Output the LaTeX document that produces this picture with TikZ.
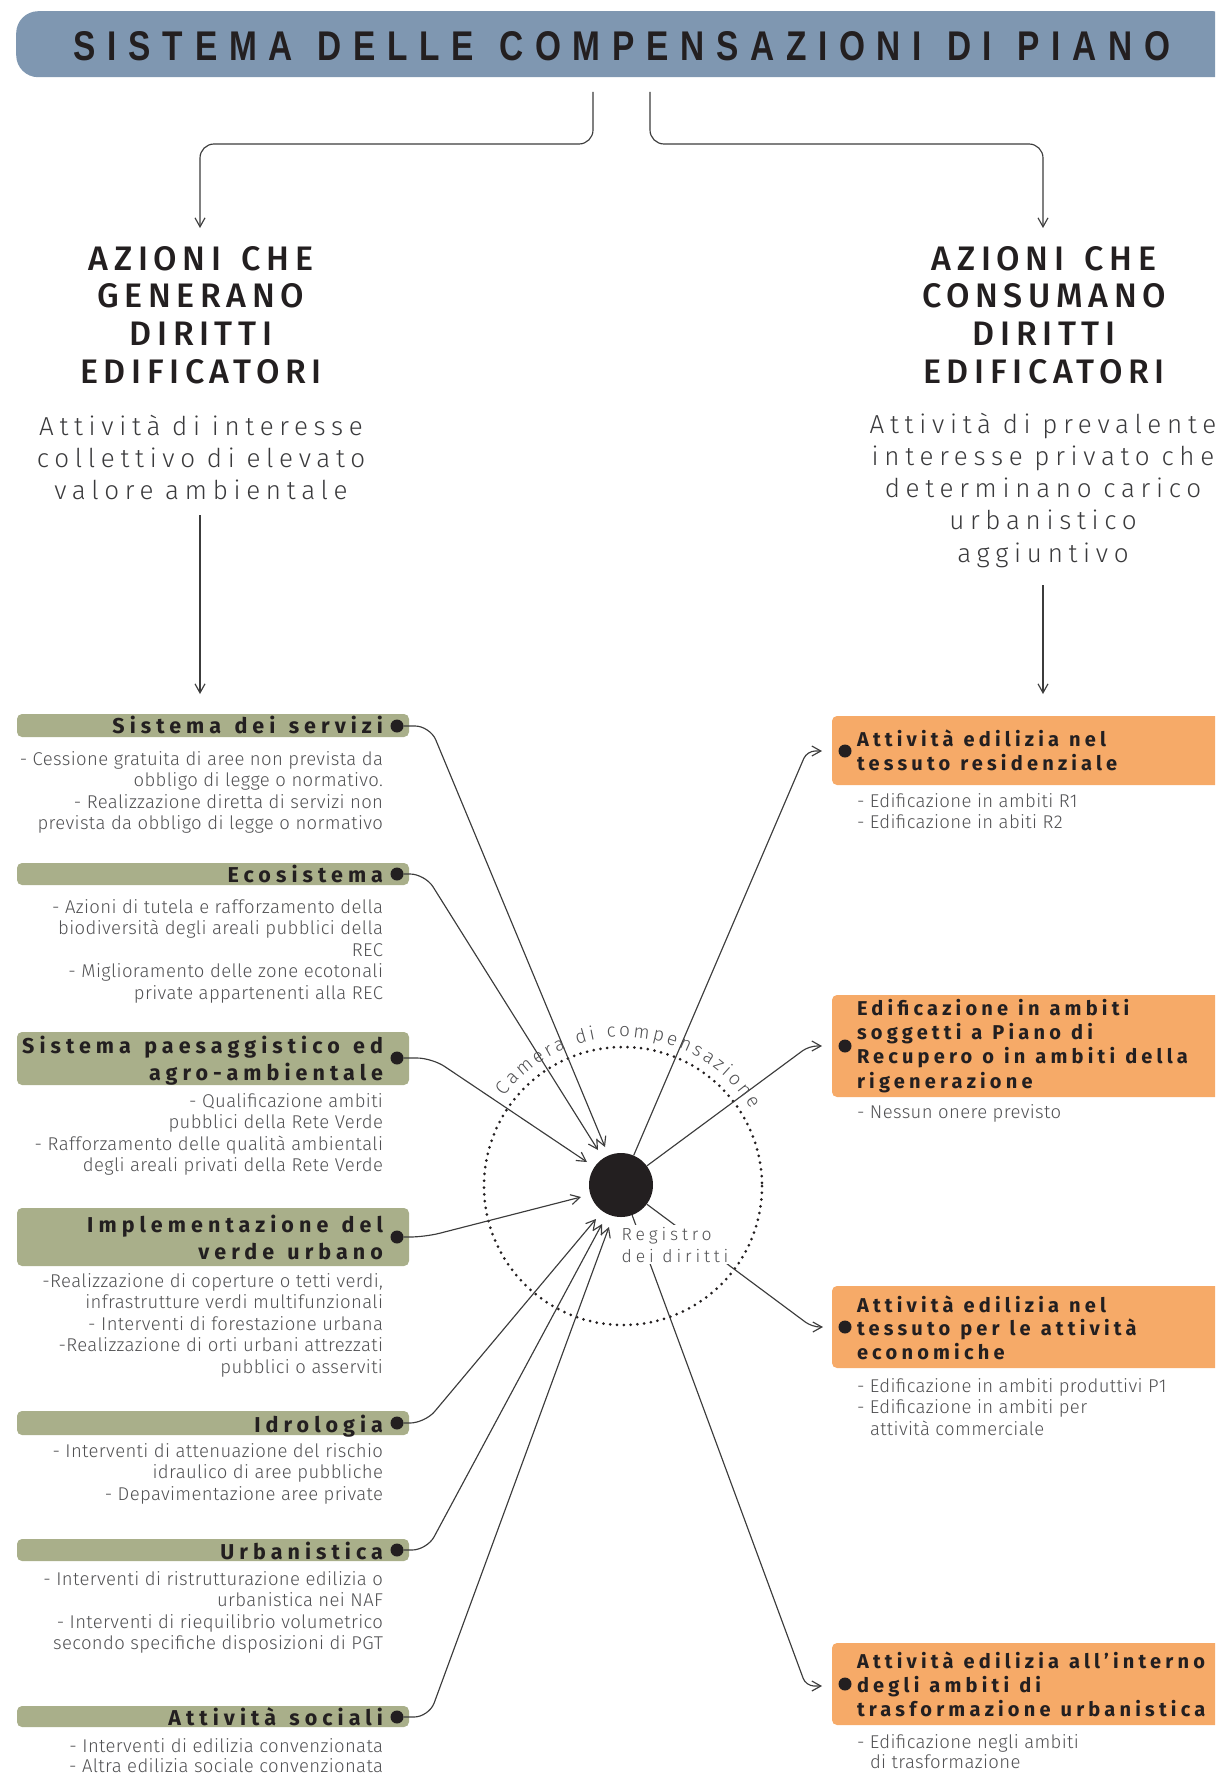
\documentclass[tikz,border=0pt]{standalone}
\usepackage{fontspec}
\usepackage{graphicx}
\setmainfont{Fira Sans}
\newfontfamily\lightfont{Fira Sans Light}
\newfontfamily\medfont{Fira Sans Medium}
\newfontfamily\barfont{Liberation Sans}[FakeStretch=0.8]
\usetikzlibrary{arrows.meta,decorations.text}

\definecolor{barblue}{HTML}{7F97B1}
\definecolor{boxgreen}{HTML}{A9AF8A}
\definecolor{boxorange}{HTML}{F6AA68}
\definecolor{ink}{HTML}{231F20}
\definecolor{desc}{HTML}{505052}
\definecolor{subgrey}{HTML}{3A3A3C}
\definecolor{wire}{HTML}{3C3C3C}

\newcommand\LinesR[2]{\vtop{\baselineskip=#1\lineskiplimit=-\maxdimen\halign{\hfil##\cr#2\crcr}}}
\newcommand\LinesC[2]{\vtop{\baselineskip=#1\lineskiplimit=-\maxdimen\halign{\hfil##\hfil\cr#2\crcr}}}
\newcommand\LinesL[2]{\vtop{\baselineskip=#1\lineskiplimit=-\maxdimen\halign{##\hfil\cr#2\crcr}}}

\newcommand\descf{\lightfont\fontsize{18.5pt}{21.5pt}\selectfont\addfontfeatures{LetterSpace=2}}
\newcommand\gtitle{\bfseries\fontsize{21.5pt}{27pt}\selectfont\addfontfeatures{LetterSpace=23.5}\fontdimen2\font=0.62em\relax}
\newcommand\otitle{\bfseries\fontsize{20pt}{24pt}\selectfont\addfontfeatures{LetterSpace=21}\fontdimen2\font=0.5em\relax}
\newcommand\regf{\lightfont\fontsize{17.5pt}{22pt}\selectfont}
\newcommand\camf{\lightfont\fontsize{19pt}{22pt}\selectfont}
\newcommand\headf{\medfont\fontsize{34pt}{37.7pt}\selectfont\addfontfeatures{LetterSpace=16.5}\fontdimen2\font=0.6em\relax}
\newcommand\subf{\lightfont\fontsize{26pt}{32pt}\selectfont\addfontfeatures{LetterSpace=22}\fontdimen2\font=0.45em\relax}

\begin{document}
\begin{tikzpicture}[x=1pt,y=-1pt,
  wire/.style={draw=wire, line width=1.15pt},
  arr/.style={-{Straight Barb[length=9pt,width=10pt]}},
  gbox/.style={fill=boxgreen, rounded corners=5pt},
  obox/.style={fill=boxorange, rounded corners=5pt},
  dotnode/.style={circle, fill=ink, minimum size=13pt, inner sep=0pt},
  txt/.style={inner sep=0pt, outer sep=0pt},
  dotring/.style={draw=ink, line width=3pt, line cap=round, dash pattern=on 0pt off 6.8pt}]
\useasboundingbox (0,0) rectangle (1215,1774);
\clip (0,0) rectangle (1215,1774);

% title bar
\node[fill=barblue, rounded corners=22pt, minimum width=1219pt, minimum height=66pt, inner sep=0pt, anchor=north west] (bar) at (16,11) {};
\node[txt, anchor=base, text=ink] (bartxt) at (622,61) {\resizebox{1096pt}{29pt}{\barfont\bfseries\addfontfeatures{LetterSpace=28}\spaceskip=0.6em\relax SISTEMA DELLE COMPENSAZIONI DI PIANO}};

% headings
\node[txt, anchor=base, text=ink] (genhead) at (201,270) {\headf\LinesC{37.7pt}{AZIONI CHE\cr GENERANO\cr DIRITTI\cr EDIFICATORI}};
\node[txt, anchor=base, text=ink] (conhead) at (1044,270) {\headf\LinesC{37.7pt}{AZIONI CHE\cr CONSUMANO\cr DIRITTI\cr EDIFICATORI}};
\node[txt, anchor=base, text=subgrey] (gensub) at (201,435) {\subf\LinesC{32.3pt}{Attività di interesse\cr collettivo di elevato\cr valore ambientale}};
\node[txt, anchor=base, text=subgrey] (consub) at (1043,433) {\subf\LinesC{32.3pt}{Attività di prevalente\cr interesse privato che\cr determinano carico\cr urbanistico\cr aggiuntivo}};

% top connectors
\coordinate (srcL) at (593,92);
\coordinate (srcR) at (650,92);
\coordinate (genin) at (200,228);
\coordinate (conin) at (1043,228);
\draw[wire, arr, rounded corners=14pt] (srcL) -- (593,144) -- (200,144) -- (genin);
\draw[wire, arr, rounded corners=14pt] (srcR) -- (650,144) -- (1043,144) -- (conin);
\coordinate (genout) at (200,515);
\coordinate (genlist) at (200,694);
\coordinate (conout) at (1043,585);
\coordinate (conlist) at (1043,694);
\draw[wire, arr] (genout) -- (genlist);
\draw[wire, arr] (conout) -- (conlist);

% green boxes
\fill[gbox] (17,714) rectangle (409,737);
\fill[gbox] (17,863) rectangle (409,885);
\fill[gbox] (17,1032) rectangle (409,1085);
\fill[gbox] (17,1208) rectangle (409,1266);
\fill[gbox] (17,1411) rectangle (409,1435);
\fill[gbox] (17,1539) rectangle (409,1561);
\fill[gbox] (17,1706) rectangle (409,1727);

\node[txt, anchor=base east, text=ink] (g1t) at (383,733) {\gtitle Sistema dei servizi};
\node[txt, anchor=base east, text=ink] (g2t) at (383,882) {\gtitle Ecosistema};
\node[txt, anchor=base east, text=ink] (g3t) at (383,1053) {\gtitle\LinesR{27pt}{Sistema paesaggistico ed\cr agro-ambientale}};
\node[txt, anchor=base east, text=ink] (g4t) at (383,1232) {\gtitle\LinesR{27pt}{Implementazione del\cr verde urbano}};
\node[txt, anchor=base east, text=ink] (g5t) at (383,1432) {\gtitle Idrologia};
\node[txt, anchor=base east, text=ink] (g6t) at (383,1559) {\gtitle Urbanistica};
\node[txt, anchor=base east, text=ink] (g7t) at (383,1725) {\gtitle Attività sociali};

\node[txt, anchor=base east, text=desc] (g1d) at (383,765) {\descf\LinesR{21.5pt}{- Cessione gratuita di aree non prevista da\cr obbligo di legge o normativo.\cr - Realizzazione diretta di servizi non\cr prevista da obbligo di legge o normativo}};
\node[txt, anchor=base east, text=desc] (g2d) at (383,913) {\descf\LinesR{21.5pt}{- Azioni di tutela e rafforzamento della\cr biodiversità degli areali pubblici della\cr REC\cr - Miglioramento delle zone ecotonali\cr private appartenenti alla REC}};
\node[txt, anchor=base east, text=desc] (g3d) at (383,1107) {\descf\LinesR{21.5pt}{- Qualificazione ambiti\cr pubblici della Rete Verde\cr - Rafforzamento delle qualità ambientali\cr degli areali privati della Rete Verde}};
\node[txt, anchor=base east, text=desc] (g4d) at (383,1287) {\descf\LinesR{21.5pt}{-Realizzazione di coperture o tetti verdi,\cr infrastrutture verdi multifunzionali\cr - Interventi di forestazione urbana\cr -Realizzazione di orti urbani attrezzati\cr pubblici o asserviti}};
\node[txt, anchor=base east, text=desc] (g5d) at (383,1457) {\descf\LinesR{21.5pt}{- Interventi di attenuazione del rischio\cr idraulico di aree pubbliche\cr - Depavimentazione aree private}};
\node[txt, anchor=base east, text=desc] (g6d) at (383,1585) {\descf\LinesR{21.5pt}{- Interventi di ristrutturazione edilizia o\cr urbanistica nei NAF\cr - Interventi di riequilibrio volumetrico\cr secondo specifiche disposizioni di PGT}};
\node[txt, anchor=base east, text=desc] (g7d) at (383,1752) {\descf\LinesR{20pt}{- Interventi di edilizia convenzionata\cr - Altra edilizia sociale convenzionata}};

% orange boxes
\fill[obox] (832,716) rectangle (1235,785);
\fill[obox] (832,995) rectangle (1235,1097);
\fill[obox] (832,1286) rectangle (1235,1368);
\fill[obox] (832,1643) rectangle (1235,1725);

\node[txt, anchor=base west, text=ink] (o1t) at (857,746) {\otitle\LinesL{24pt}{Attività edilizia nel\cr tessuto residenziale}};
\node[txt, anchor=base west, text=ink] (o2t) at (857,1015) {\otitle\LinesL{24.4pt}{Edificazione in ambiti\cr soggetti a Piano di\cr Recupero o in ambiti della\cr rigenerazione}};
\node[txt, anchor=base west, text=ink] (o3t) at (857,1312) {\otitle\LinesL{23.7pt}{Attività edilizia nel\cr tessuto per le attività\cr economiche}};
\node[txt, anchor=base west, text=ink] (o4t) at (857,1668) {\otitle\LinesL{24pt}{Attività edilizia all’interno\cr degli ambiti di\cr trasformazione urbanistica}};

\node[txt, anchor=base west, text=desc] (o1d) at (857,807) {\descf\LinesL{21.5pt}{- Edificazione in ambiti R1\cr - Edificazione in abiti R2}};
\node[txt, anchor=base west, text=desc] (o2d) at (857,1118) {\descf - Nessun onere previsto};
\node[txt, anchor=base west, text=desc] (o3d) at (857,1392) {\descf\LinesL{21.5pt}{- Edificazione in ambiti produttivi P1\cr - Edificazione in ambiti per\cr \hspace*{13pt}attività commerciale}};
\node[txt, anchor=base west, text=desc] (o4d) at (857,1748) {\descf\LinesL{20pt}{- Edificazione negli ambiti\cr \hspace*{13pt}di trasformazione}};

% dots
\node[dotnode] (g1) at (397,726) {};
\node[dotnode] (g2) at (397,874) {};
\node[dotnode] (g3) at (397,1058) {};
\node[dotnode] (g4) at (397,1237) {};
\node[dotnode] (g5) at (397,1423) {};
\node[dotnode] (g6) at (397,1550) {};
\node[dotnode] (g7) at (397,1717) {};
\node[dotnode] (o1) at (845,751) {};
\node[dotnode] (o2) at (845,1046) {};
\node[dotnode] (o3) at (845,1327) {};
\node[dotnode] (o4) at (845,1684) {};

% compensation chamber
\draw[dotring] (623,1186) circle[radius=139];
\node[circle, fill=ink, minimum size=64pt, inner sep=0pt] (reg) at (621,1185) {};

\coordinate (t1) at (605,1147);
\coordinate (t2) at (598,1150);
\coordinate (t3) at (587,1162);
\coordinate (t4) at (581,1197);
\coordinate (t5) at (596,1219);
\coordinate (t6) at (602,1224);
\coordinate (t7) at (609,1227);
\draw[wire, arr, rounded corners=15pt] (g1) -- (430,726) -- (t1);
\draw[wire, arr, rounded corners=15pt] (g2) -- (425,874) -- (t2);
\draw[wire, arr, rounded corners=15pt] (g3) -- (432,1058) -- (t3);
\draw[wire, arr, rounded corners=15pt] (g4) -- (425,1237) -- (t4);
\draw[wire, arr, rounded corners=15pt] (g5) -- (425,1423) -- (t5);
\draw[wire, arr, rounded corners=15pt] (g6) -- (427,1550) -- (t6);
\draw[wire, arr, rounded corners=15pt] (g7) -- (429,1717) -- (t7);

\coordinate (r1) at (822,751);
\coordinate (r2) at (822,1046);
\coordinate (r3) at (823,1327);
\coordinate (r4) at (822,1686);
\draw[wire, arr, rounded corners=8pt] (reg) -- (807,751) -- (r1);
\draw[wire, arr, rounded corners=8pt] (reg) -- (809,1046) -- (r2);
\draw[wire, arr, rounded corners=8pt] (reg) -- (812,1327) -- (r3);
\draw[wire, arr, rounded corners=8pt] (reg) -- (806,1686) -- (r4);

\node[anchor=base west, fill=white, inner sep=1.5pt, text=desc] (regtxt) at (620,1240) {\regf\addfontfeatures{LetterSpace=22}\LinesL{22pt}{Registro\cr dei diritti}};

\path (623,1186) ++(-143:149) coordinate (camstart);
\path[decorate, decoration={text along path, text color=desc, text={|\camf|Camera di compensazione}, text align={fit to path}}] (camstart) arc[start angle=-143, end angle=-31, radius=149];
\end{tikzpicture}
\end{document}
